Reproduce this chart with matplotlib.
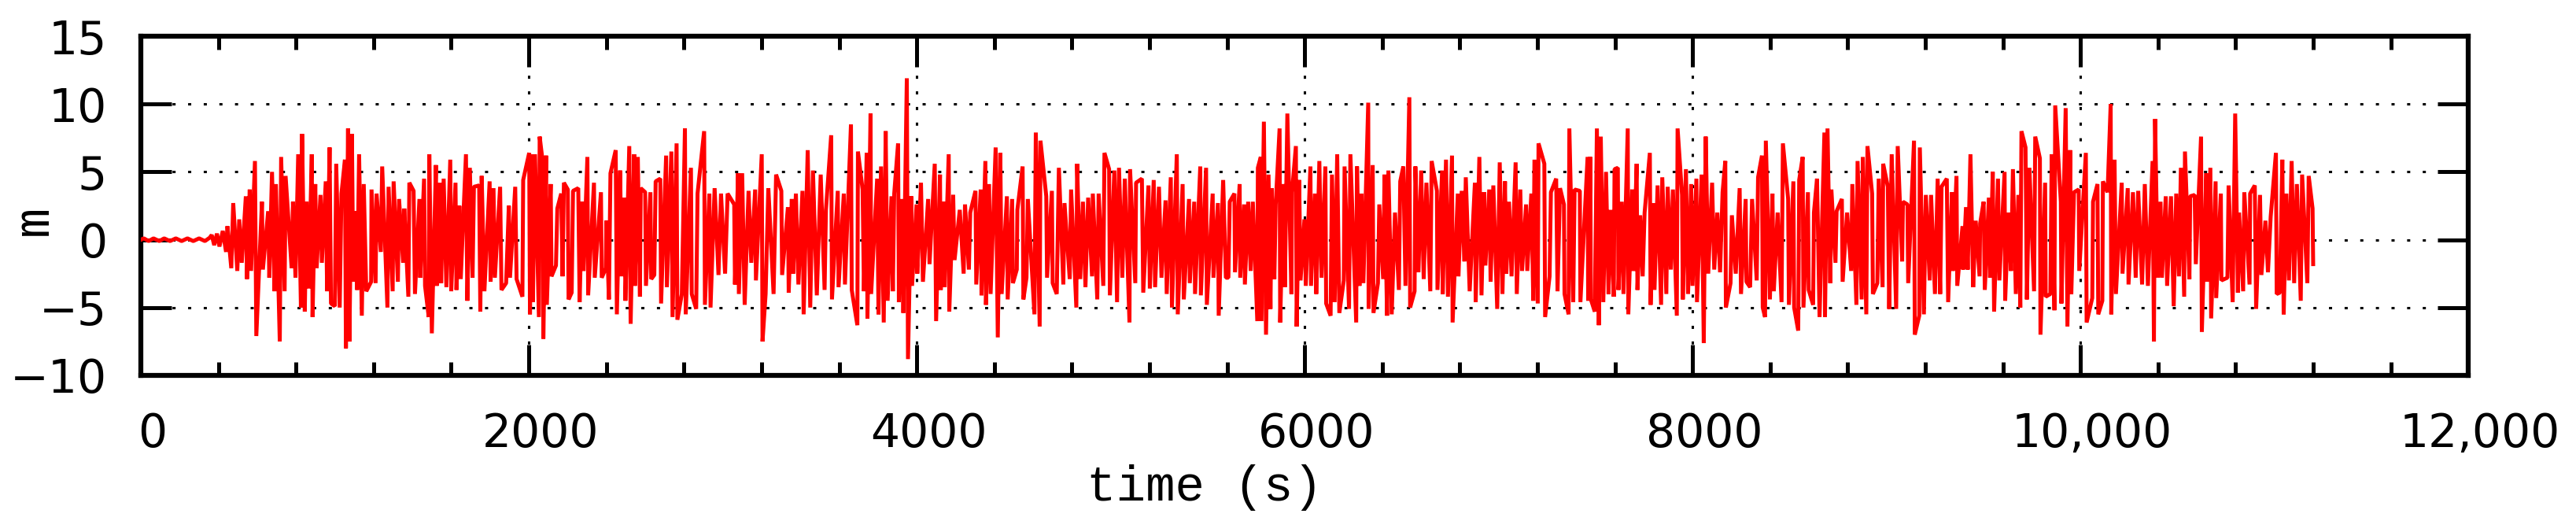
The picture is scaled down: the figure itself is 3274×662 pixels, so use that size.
import matplotlib
matplotlib.use('Agg')
import matplotlib.pyplot as plt
import matplotlib.transforms as mtransforms
from matplotlib.ticker import MultipleLocator

seg1 = [(0, 0), (15, 0.1), (40, -0.1), (65, 0.1), (95, -0.1), (120, 0.1), (150, -0.1), (180, 0.1), (210, -0.1),
        (240, 0.1), (270, -0.1), (300, 0.1), (330, -0.1), (355, 0.15), (365, 0.35), (378, -0.4), (392, 0.45),
        (405, -0.5), (422, 0.65), (439, -0.9), (446, 1.0), (466, -2.1), (476, 2.7), (497, -2.3), (507, 1.5),
        (520, -1.7), (541, 3.2), (547, -2.9), (561, 3.7), (568, -2.3), (588, 5.8), (595, -7.1), (624, 2.8),
        (629, -2.2), (656, 2.1), (662, -2.8), (676, 5.0), (689, -3.8), (696, 4.1), (716, -7.5), (723, 6.1),
        (741, -3.8), (746, 4.7), (777, -2.1), (784, 2.8), (797, -2.8), (811, 6.3), (825, -5.0), (831, 7.8),
        (845, -5.3), (854, 2.8), (865, -3.6), (881, 6.3), (885, -5.7), (899, 4.1), (906, -2.1), (926, 3.3),
        (933, -1.7), (953, 4.3), (960, -3.8), (973, 6.8), (980, -4.7), (1000, -4.9), (1007, 5.6), (1025, -5.0),
        (1034, 3.4), (1052, 5.9), (1057, -8.0), (1068, 8.2), (1075, -7.5), (1088, 7.8), (1095, -3.1), (1108, 2.1),
        (1115, -3.7), (1125, 6.3), (1139, -5.6), (1149, 4.1), (1162, -3.8), (1187, -3.1), (1189, 3.7), (1210, -3.2),
        (1215, 3.4), (1237, -0.9), (1244, 5.4), (1271, -5.0), (1277, 3.9), (1298, -3.8), (1303, 4.3), (1325, -3.1),
        (1331, 3.0), (1352, -1.7), (1358, 2.3), (1379, -4.2), (1384, 4.2), (1406, 3.6), (1413, -4.0), (1436, 3.0),
        (1440, -2.8), (1460, 4.5), (1465, -3.4), (1484, -5.7), (1487, 6.3), (1500, -6.9), (1521, 5.5), (1525, -3.4),
        (1541, 4.2), (1548, -3.2), (1561, 4.5), (1575, -3.5), (1595, 5.9), (1600, -3.8), (1622, 4.2), (1627, -3.7),
        (1642, 2.5), (1649, -2.9), (1676, 6.3), (1683, -4.5), (1696, 5.3), (1710, -2.8), (1717, 3.9), (1744, 4.0),
        (1750, -5.3), (1757, 4.7), (1771, -3.8), (1798, 4.3), (1803, -3.1), (1818, 3.8), (1825, -2.8), (1852, 3.9),
        (1859, -3.7)]
seg2 = [(1883, -3.2), (1897, 2.5), (1903, -2.8), (1930, 3.9), (1937, -2.9), (1967, -4.2), (1971, 4.4), (2002, 6.4),
        (2006, -5.5), (2018, 6.3), (2021, -4.6), (2032, 6.3), (2052, -5.7), (2056, 7.6), (2072, 5.7), (2075, -7.3),
        (2089, 6.2), (2093, -4.8), (2113, 4.1), (2117, -2.7), (2140, -1.9), (2147, 2.3), (2167, 3.4), (2174, -2.7),
        (2181, 4.2), (2201, 3.7), (2205, -4.4), (2221, -3.9), (2228, 3.6), (2255, 3.8), (2262, -4.6), (2275, 2.8),
        (2282, -2.3), (2302, 6.1), (2306, -4.1), (2336, 4.2), (2340, -2.8), (2372, 3.5), (2376, -2.8), (2397, -2.1),
        (2400, 1.4), (2413, -4.4), (2421, 4.9), (2448, 6.6), (2454, -5.5), (2471, 5.1), (2478, -2.7), (2494, 3.1),
        (2498, -4.5), (2518, 6.9), (2525, -6.2), (2543, 6.3), (2547, -3.4), (2562, 6.1), (2573, -4.2), (2577, 3.8),
        (2600, 3.5), (2604, -3.4), (2627, 3.5), (2631, -2.9), (2647, -2.6), (2654, 4.3), (2678, 4.5), (2682, -4.7),
        (2708, 6.2), (2712, -3.5), (2735, 6.5), (2741, -5.7), (2762, 7.1), (2766, -5.9), (2789, -4.0), (2805, 8.2),
        (2809, -5.5), (2836, 5.3), (2840, -4.0), (2863, -5.1), (2870, 3.4), (2904, 8.0), (2908, -4.8), (2931, 3.4),
        (2937, -5.0), (2958, 3.8), (2978, -2.6), (2991, 3.4), (3012, -2.5), (3025, 3.4), (3059, 2.6), (3063, -3.3),
        (3079, 4.9), (3083, -4.0), (3100, 4.9), (3113, -4.8), (3133, 3.6), (3147, -1.7), (3167, 3.7), (3171, -3.0),
        (3201, 6.3), (3205, -7.5), (3221, -4.0), (3235, 3.8), (3262, -4.0), (3275, 4.8), (3302, 3.6), (3306, -2.6),
        (3336, 2.4), (3340, -3.9), (3356, 3.0), (3363, -2.5), (3377, 3.4), (3390, -3.3), (3411, 3.6), (3417, -5.5),
        (3438, 6.6), (3451, -5.0), (3465, 5.1), (3485, -4.1), (3505, 4.8), (3525, -3.7), (3532, 2.2), (3559, 7.7),
        (3563, -4.4), (3593, 3.6), (3597, -3.5), (3624, 3.4), (3630, -3.3), (3661, 8.5), (3665, -3.7), (3694, -6.3),
        (3697, 6.5), (3721, 3.7), (3728, -3.8)]
seg3 = [(3742, 6.4), (3746, -5.8), (3762, 9.3), (3765, -4.0), (3796, 4.5), (3803, -5.5), (3816, 5.4), (3830, -6.1),
        (3840, 8.0), (3850, -4.5), (3870, 3.2), (3877, -3.8), (3884, 3.4), (3904, 7.1), (3908, -4.6), (3924, 3.0),
        (3931, -5.4), (3949, 11.9), (3955, -8.8), (3972, 3.2), (3976, -3.4), (3999, 2.6), (4003, -2.5), (4022, 4.2),
        (4032, -3.1), (4059, 3.0), (4066, -1.8), (4093, 5.6), (4100, -6.0), (4120, 4.8), (4124, -3.7), (4140, 2.8),
        (4144, -3.5), (4165, 6.3), (4168, -5.3), (4188, 3.3), (4195, -1.5), (4222, 2.2), (4242, -2.5), (4249, 2.6),
        (4269, -2.2), (4276, 2.0), (4303, 3.6), (4307, -3.3), (4330, 3.7), (4334, -4.1), (4354, 5.8), (4357, -4.8),
        (4373, 4.1), (4381, -4.0), (4407, 6.8), (4418, -7.2), (4431, 6.4), (4438, -4.0), (4465, 3.2), (4469, -4.4),
        (4492, 3.0), (4496, -3.2), (4516, -2.2), (4519, 2.2), (4546, 5.4), (4550, -4.4), (4566, -2.8), (4573, 3.0),
        (4607, -5.5), (4614, 7.9), (4634, -6.4), (4638, 7.3), (4668, 3.2), (4672, -2.8), (4697, 3.6), (4701, -3.2),
        (4722, -4.0), (4733, 5.3), (4756, -3.3), (4762, 2.7), (4789, -2.9), (4796, 3.7), (4823, -5.0), (4827, 5.6),
        (4843, -2.9), (4857, 2.8), (4870, -3.5), (4884, 3.1), (4904, -2.7), (4908, 3.4), (4931, -4.4), (4938, 3.4),
        (4962, -3.4), (4968, 6.4), (4992, 5.2), (4996, -4.1), (5019, 5.1), (5033, -4.6), (5043, 5.3), (5060, -2.8),
        (5073, 4.5), (5097, -6.1), (5100, 5.2), (5127, -3.2), (5131, 4.2), (5161, 4.5), (5168, -3.9), (5195, 4.0),
        (5202, -3.6), (5222, 4.4), (5229, -3.5), (5249, 3.9), (5262, -2.8), (5283, 2.9), (5289, -4.0), (5310, 4.6),
        (5316, -5.0), (5341, 6.3), (5346, -5.5), (5371, 4.1), (5377, -4.4), (5404, 3.0), (5408, -3.2), (5431, 2.8),
        (5435, -4.0), (5462, 5.4), (5465, -4.1), (5492, 5.3), (5496, -4.8), (5526, 3.4), (5530, -2.8), (5553, 2.7),
        (5557, -5.6), (5580, 4.4), (5594, -2.8)]
seg4 = [(5607, -2.8), (5614, 2.8), (5638, 3.4), (5641, -2.4), (5665, 4.1), (5668, -2.8), (5688, 2.6), (5692, -3.3),
        (5709, 2.8), (5722, -2.3), (5733, 2.8), (5756, -6.0), (5759, 5.3), (5774, 6.1), (5776, -6.0), (5790, 8.7),
        (5801, -7.0), (5814, 4.8), (5824, -5.1), (5830, 3.8), (5844, -2.9), (5851, 2.6), (5871, 8.2), (5874, -6.1),
        (5891, 4.1), (5898, -3.5), (5911, 9.3), (5932, -4.0), (5935, 3.5), (5955, 6.9), (5959, -6.4), (5972, 4.4),
        (5979, -3.0), (5999, 1.5), (6006, -3.4), (6030, 5.4), (6033, -3.4), (6053, 3.4), (6060, -4.0), (6076, 5.8),
        (6087, -2.8), (6107, 5.4), (6111, -4.7), (6134, -5.6), (6141, 4.8), (6155, -4.6), (6168, 6.3), (6179, -5.4),
        (6202, -3.0), (6206, 5.4), (6229, -5.1), (6236, 6.3), (6266, -6.1), (6270, 5.4), (6283, -3.4), (6293, 3.4),
        (6303, -3.2), (6328, 10.1), (6330, -5.1), (6351, 5.5), (6355, -5.4), (6378, -3.2), (6385, 2.6), (6405, -2.9),
        (6412, 4.8), (6425, -5.6), (6432, 5.1), (6449, -5.5), (6466, 2.0), (6486, -3.7), (6493, 4.3), (6509, 5.4),
        (6520, -3.4), (6540, 10.5), (6544, -5.0), (6567, -3.8), (6571, 5.4), (6587, -2.4), (6601, 5.1), (6614, -2.9),
        (6628, 4.2), (6648, -3.8), (6655, 5.8), (6682, 3.6), (6685, -3.7), (6709, 5.1), (6712, -4.0), (6729, 5.9),
        (6739, -4.2), (6760, 6.2), (6763, -6.1), (6790, 3.4), (6793, -2.7), (6810, 3.6), (6824, -1.6), (6831, 4.6),
        (6851, -3.8), (6878, 4.2), (6882, -4.6), (6901, 6.1), (6912, -4.1), (6925, 3.5), (6932, -1.9), (6952, 3.7),
        (6959, -3.1), (6973, 4.0), (6993, -5.1), (7006, 5.7), (7020, -4.0), (7033, 4.3), (7040, -2.5), (7054, 2.8),
        (7067, -2.7), (7088, 5.7), (7094, -4.0), (7112, 3.7), (7121, -2.3), (7142, 2.6), (7148, -2.3), (7169, 3.4),
        (7179, -4.5), (7185, 5.9), (7202, -4.7), (7206, 7.1), (7236, 5.6), (7240, -5.7), (7263, -2.7), (7270, 3.5),
        (7297, 4.5), (7304, -3.8), (7317, 3.8), (7337, 2.6), (7340, -4.0), (7361, -5.5), (7365, 8.2), (7385, -4.6),
        (7392, 3.7), (7419, 3.6), (7422, -4.6), (7459, 6.1), (7462, -4.5)]
seg5 = [(7473, 6.1), (7476, -4.4), (7496, -5.3), (7507, 8.2), (7517, -6.3), (7527, 7.6), (7540, -4.6), (7554, 5.0),
        (7567, -4.0), (7577, 2.2), (7594, -4.2), (7598, 5.2), (7615, 5.3), (7618, -3.7), (7635, 2.8), (7644, -4.0),
        (7666, 8.2), (7669, -5.5), (7689, 3.7), (7696, -2.3), (7712, 5.6), (7716, -3.7), (7730, 1.8), (7743, -2.7),
        (7753, 2.0), (7780, 6.4), (7784, -4.8), (7797, 2.7), (7804, -3.7), (7820, 4.0), (7838, -4.8), (7844, 4.6),
        (7865, -4.0), (7872, 3.9), (7888, -2.2), (7899, 3.7), (7919, -5.6), (7923, 8.2), (7946, 3.3), (7950, -4.4),
        (7966, 5.2), (7977, -4.0), (7993, 4.1), (8000, -3.4), (8020, 4.5), (8023, -4.6), (8047, 4.8), (8058, -7.6),
        (8068, 7.6), (8081, -2.5), (8101, 4.2), (8112, -2.2), (8128, 2.0), (8142, -2.4), (8155, 3.5), (8169, 5.8),
        (8172, -5.0), (8196, -3.2), (8203, 1.8), (8223, -2.5), (8243, 3.8), (8250, -4.0), (8274, 3.0), (8278, -3.1),
        (8297, -3.5), (8307, 3.0), (8331, -3.0), (8338, 4.6), (8358, 6.2), (8362, -5.0), (8374, -5.7), (8378, 7.3),
        (8399, -4.4), (8412, 3.4), (8419, -3.8), (8439, 2.0), (8459, -4.6), (8466, 7.1), (8493, 3.0), (8497, -4.8),
        (8520, 4.3), (8524, -5.0), (8545, -6.7), (8550, 4.4), (8568, 6.1), (8572, -5.0), (8595, 3.5), (8599, -3.7),
        (8622, -4.8), (8626, 2.0), (8642, 4.5), (8655, -5.7), (8680, 7.9), (8683, -5.7), (8696, 8.2), (8710, -3.2),
        (8716, 3.7), (8737, -1.7), (8743, 2.1), (8770, 3.0), (8774, -3.1), (8797, 2.0), (8818, -2.3), (8824, 4.1),
        (8845, -4.8), (8851, 5.8), (8872, -4.4), (8878, 6.1), (8896, -5.5), (8902, 6.9), (8926, 3.4), (8930, -4.0),
        (8953, -3.2), (8960, 4.5), (8980, -3.5), (8983, 5.6), (9007, 3.9), (9014, -5.1), (9027, 6.3), (9050, -5.1),
        (9058, 6.9), (9081, -1.6), (9085, 2.8), (9108, 2.6), (9112, -3.2), (9142, 7.3), (9146, -7.0), (9169, -5.6),
        (9172, 6.8), (9193, -5.5), (9203, 3.3), (9223, -3.0), (9230, 3.3), (9250, -4.0), (9264, 4.5), (9277, -4.0),
        (9284, 3.9), (9311, 4.5), (9318, -4.6)]
seg6 = [(9338, 3.5), (9342, -2.3), (9361, 4.7), (9365, -3.4), (9392, 1.0), (9395, -2.2), (9410, 2.4), (9419, -2.2),
        (9433, 6.3), (9447, -3.5), (9460, 1.4), (9480, -2.7), (9483, 1.2), (9501, 2.8), (9507, -3.7), (9528, 3.1),
        (9534, -2.8), (9548, 5.0), (9555, -5.3), (9575, 4.5), (9582, -3.0), (9609, 5.0), (9612, -4.5), (9629, 2.0),
        (9642, -2.3), (9652, 5.2), (9667, -4.0), (9680, 3.3), (9690, -5.0), (9696, 8.0), (9717, 6.8), (9724, -4.4),
        (9737, 5.3), (9761, -3.8), (9767, 7.6), (9791, 6.0), (9794, -7.0), (9818, 4.2), (9821, -4.2), (9845, -4.0),
        (9852, 6.3), (9866, -5.2), (9870, 9.9), (9899, 2.8), (9902, -4.7), (9924, 9.7), (9933, -6.4), (9947, 6.6),
        (9953, -4.0), (9967, 3.5), (9991, 3.7), (9994, -2.3), (10028, 6.4), (10032, -6.1), (10061, -4.3), (10065, 2.8),
        (10088, 4.1), (10092, -5.5), (10113, -4.5), (10116, 4.3), (10140, 3.5), (10156, 10.0), (10159, -5.5),
        (10176, 5.9), (10183, -4.0), (10213, 4.2), (10217, -2.5), (10244, 3.8), (10248, -3.3), (10271, 3.5),
        (10285, -2.8), (10298, 3.6), (10318, -3.3), (10332, 4.1), (10348, -3.4), (10372, 5.8), (10379, -7.5),
        (10385, 8.9), (10399, -2.8), (10413, 2.8), (10420, -2.8), (10440, 3.2), (10447, -3.4), (10467, 3.2),
        (10481, -4.9), (10494, 3.4), (10508, -2.7), (10518, 5.3), (10535, -4.2), (10539, 6.5), (10562, -2.9),
        (10566, 3.2), (10589, 3.3), (10595, -1.8), (10622, 7.6), (10626, -6.8), (10649, 4.9), (10652, -3.1),
        (10670, 5.3), (10674, -5.8), (10697, 4.3), (10700, -4.3), (10724, 3.4), (10727, -3.0), (10758, -2.8),
        (10764, 4.0), (10785, -4.6), (10798, 9.3), (10812, -3.9), (10818, 2.0), (10839, -3.8), (10845, 3.5),
        (10872, -3.3), (10875, 3.4), (10899, 4.0), (10906, -5.1), (10926, 3.3), (10933, -2.6), (10954, 1.4),
        (10967, -2.4), (10981, 1.7), (11008, 6.4), (11012, -4.0), (11028, -3.9), (11041, 5.9), (11048, -5.5),
        (11062, 3.4), (11075, -3.0), (11089, 5.8), (11102, -3.2), (11116, 4.1), (11136, -4.5), (11143, 4.8),
        (11170, -3.2), (11177, 4.7), (11197, 2.3), (11200, -1.8)]

x_ticks = [0, 2000, 4000, 6000, 8000, 10000, 12000]
x_tick_labels = ['0', '2000', '4000', '6000', '8000', '10,000', '12,000']
y_ticks = [-10, -5, 0, 5, 10, 15]

record = seg1 + seg2 + seg3 + seg4 + seg5 + seg6
t_s = [p[0] for p in record]
eta_m = [p[1] for p in record]

fig = plt.figure(figsize=(32.74, 6.62), dpi=100)
ax = fig.add_axes([0.0547, 0.2795, 0.9035, 0.651])

# thick stroke stands in for the very dense sampling of the original trace
ax.plot(t_s, eta_m, color='#ff0000', lw=3.6, zorder=3, solid_joinstyle='bevel')

ax.set_xlim(0, 12000)
ax.set_ylim(-10, 15)
ax.set_xticks(x_ticks)
ax.set_xticklabels(x_tick_labels)
ax.xaxis.set_minor_locator(MultipleLocator(400))
ax.set_yticks(y_ticks)

ax.grid(True, which='major', color='black', lw=2.2, linestyle=(0, (1.3, 5.2)))
ax.set_axisbelow(True)

ax.tick_params(which='both', direction='in', top=True, right=True, width=3.6, color='black')
ax.tick_params(which='major', length=28, labelsize=42)
ax.tick_params(which='minor', length=12.5)
ax.tick_params(axis='x', pad=33)
ax.tick_params(axis='y', pad=31)
for sp in ax.spines.values():
    sp.set_linewidth(4.5)

# the x labels sit a little right of their ticks in the original
shift = mtransforms.ScaledTranslation(0.15, 0, fig.dpi_scale_trans)
for lab in ax.get_xticklabels():
    lab.set_transform(lab.get_transform() + shift)

fig.text(1531 / 3274, 26 / 662, 'time (s)', ha='center', va='baseline',
         family='Liberation Mono', size=45)
fig.text(43 / 3274, 1 - 280 / 662, 'm', rotation=90, ha='center', va='center',
         family='Liberation Mono', size=46)

fig.savefig('out.png', dpi=100)
